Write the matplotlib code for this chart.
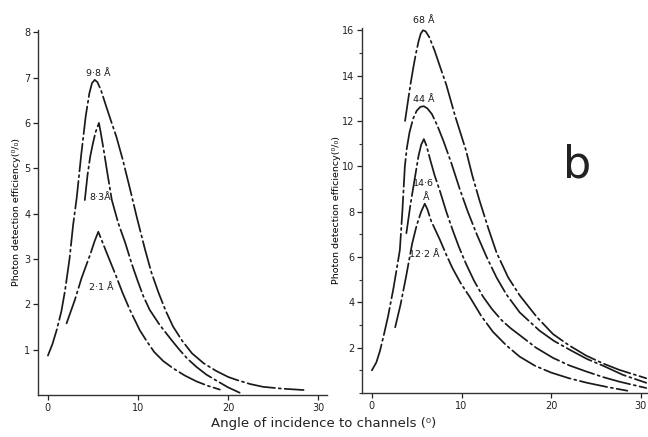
import matplotlib
matplotlib.use("Agg")
import matplotlib.pyplot as plt
from matplotlib.ticker import MultipleLocator

# ---- data ----
# left panel
x_98 = [0, 0.5, 1.0, 1.5, 1.9, 2.4, 2.8, 3.2, 3.7, 4.2, 4.6, 4.9, 5.2, 5.5, 5.9, 6.5, 7.0, 7.6, 8.3, 9.1, 9.9, 10.8,
        11.5, 12.3, 13.1, 13.9, 14.9, 16.0, 17.3, 18.7, 20.0, 21.0, 22.5, 23.9, 26.0, 28.4]
y_98 = [0.87, 1.12, 1.45, 1.85, 2.3, 3.0, 3.75, 4.35, 5.3, 6.15, 6.65, 6.88, 6.95, 6.9, 6.72, 6.35, 6.05, 5.7, 5.2, 4.56,
        3.9, 3.2, 2.7, 2.25, 1.85, 1.51, 1.2, 0.92, 0.7, 0.53, 0.4, 0.33, 0.24, 0.18, 0.14, 0.11]
x_83 = [4.1, 4.4, 4.7, 5.0, 5.3, 5.67, 5.9, 6.2, 6.6, 7.1, 7.8, 8.6, 9.3, 10.0, 10.6, 11.3, 12.4, 13.7, 14.6, 15.5,
        16.5, 17.6, 18.7, 20.0, 21.3]
y_83 = [4.3, 4.85, 5.26, 5.55, 5.8, 6.0, 5.75, 5.4, 4.9, 4.3, 3.8, 3.35, 2.9, 2.5, 2.18, 1.88, 1.55, 1.22, 1.0, 0.8,
        0.62, 0.45, 0.32, 0.17, 0.05]
x_21 = [2.07, 3.0, 3.74, 4.7, 5.2, 5.6, 5.9, 6.5, 7.6, 8.3, 9.1, 10.2, 11.0, 11.8, 12.8, 13.9, 15.2, 16.5, 17.8, 19.1]
y_21 = [1.58, 2.1, 2.58, 3.1, 3.4, 3.6, 3.45, 3.15, 2.61, 2.25, 1.88, 1.43, 1.18, 0.95, 0.75, 0.59, 0.43, 0.3, 0.2, 0.12]
# right panel
x_68 = [3.7, 4.0, 4.3, 4.6, 4.9, 5.2, 5.45, 5.7, 6.0, 6.4, 7.0, 7.6, 8.3, 9.3, 10.5, 11.2, 12.0, 13.0, 13.9, 15.2,
        16.5, 18.4, 20.2, 22.0, 23.9, 25.8, 27.6, 30.6]
y_68 = [12.0, 12.8, 13.6, 14.3, 14.95, 15.5, 15.85, 16.0, 15.95, 15.7, 15.1, 14.4, 13.6, 12.2, 10.7, 9.6, 8.5, 7.25,
        6.2, 5.1, 4.3, 3.35, 2.6, 2.1, 1.65, 1.3, 1.02, 0.65]
x_44 = [0, 0.5, 0.9, 1.3, 1.8, 2.4, 2.94, 3.12, 3.4, 3.68, 3.9, 4.2, 4.6, 5.0, 5.4, 5.8, 6.2, 6.7, 7.3, 8.0, 8.9, 9.8,
        10.7, 11.7, 12.8, 13.9, 15.0, 16.5, 18.7, 20.3, 22.1, 24.0, 25.8, 28.0, 30.6]
y_44 = [1.0, 1.35, 1.85, 2.5, 3.37, 4.6, 5.87, 6.3, 8.0, 10.0, 10.8, 11.5, 12.1, 12.45, 12.62, 12.65, 12.55, 12.3,
        11.8, 11.1, 10.1, 9.0, 8.0, 7.0, 6.0, 5.1, 4.35, 3.55, 2.75, 2.3, 1.9, 1.5, 1.2, 0.8, 0.45]
x_146 = [3.85, 4.3, 4.8, 5.2, 5.5, 5.8, 6.1, 6.5, 7.0, 7.6, 8.3, 9.0, 9.7, 10.5, 11.4, 12.4, 13.4, 14.5, 15.5, 16.5,
         18.3, 20.2, 22.0, 23.9, 25.8, 27.6, 30.6]
y_146 = [7.05, 8.3, 9.5, 10.45, 10.95, 11.2, 10.9, 10.3, 9.6, 8.9, 8.0, 7.2, 6.45, 5.7, 4.95, 4.25, 3.7, 3.2, 2.85,
         2.55, 2.0, 1.55, 1.22, 0.95, 0.7, 0.5, 0.22]
x_122 = [2.6, 3.2, 3.8, 4.5, 5.0, 5.5, 5.9, 6.2, 6.6, 7.6, 8.3, 9.0, 9.9, 10.9, 12.2, 13.5, 15.0, 16.5, 18.2, 20.0,
         22.0, 24.0, 26.3, 28.5]
y_122 = [2.9, 3.9, 5.1, 6.6, 7.4, 8.0, 8.35, 8.1, 7.6, 6.75, 6.1, 5.5, 4.85, 4.25, 3.4, 2.7, 2.1, 1.6, 1.2, 0.9,
         0.65, 0.45, 0.26, 0.1]

xticks = [0, 10, 20, 30]
left_yticks = [1, 2, 3, 4, 5, 6, 7, 8]
right_yticks = [2, 4, 6, 8, 10, 12, 14, 16]

ylabel = "Photon detection efficiency(\u2070/\u2080)"
xlabel = "Angle of incidence to channels (\u2070)"

ls = (0, (16, 2.2, 1.2, 2.2))
lc = "#1a1a1a"
lw = 1.25

fig = plt.figure(figsize=(6.48, 4.37), dpi=100)
axL = fig.add_axes([38/648, 42/437, 289/648, 365/437])
axR = fig.add_axes([362/648, 44/437, 286/648, 365/437])

for ax in (axL, axR):
    for s in ("top", "right"):
        ax.spines[s].set_visible(False)
    for s in ("left", "bottom"):
        ax.spines[s].set_color("#333333")
        ax.spines[s].set_linewidth(1.0)
    ax.set_xticks(xticks)
    ax.tick_params(axis="both", direction="out", length=3.5, width=0.9,
                   labelsize=7, colors="#222222", pad=2)
    ax.set_xlim(-1.1, 31.0)

axL.set_ylim(0, 8.05)
axL.set_yticks(left_yticks)
axR.set_xlim(-1.1, 30.8)
axR.set_ylim(0, 16.1)
axR.set_yticks(right_yticks)
axR.yaxis.set_minor_locator(MultipleLocator(1))
axR.tick_params(axis="y", which="minor", direction="out", length=2.5, width=0.8, colors="#333333")

for xs, ys in ((x_98, y_98), (x_83, y_83), (x_21, y_21)):
    axL.plot(xs, ys, color=lc, lw=lw, linestyle=ls, dash_capstyle="round", dash_joinstyle="round")
for xs, ys in ((x_68, y_68), (x_44, y_44), (x_146, y_146), (x_122, y_122)):
    axR.plot(xs, ys, color=lc, lw=lw, linestyle=ls, dash_capstyle="round", dash_joinstyle="round")

tk = dict(fontsize=6.8, color="#1a1a1a", ha="center", va="center")
axL.text(5.56, 7.1, "9\u00b78 \u00c5", **tk)
axL.text(5.8, 4.36, "8\u00b73\u00c5", **tk)
axL.text(5.9, 2.38, "2\u00b71 \u00c5", **tk)
axR.text(5.8, 16.45, "68 \u00c5", **tk)
axR.text(5.8, 12.96, "44 \u00c5", **tk)
axR.text(5.7, 9.25, "14\u00b76", **tk)
axR.text(6.1, 8.64, "\u00c5", **tk)
axR.text(5.8, 6.13, "12\u00b72 \u00c5", **tk)

axL.set_ylabel(ylabel, fontsize=6.8, labelpad=2)
axR.set_ylabel(ylabel, fontsize=6.8, labelpad=1)

fig.text(0.5, 0.03, xlabel, ha="center", va="center", fontsize=9.5, color="#222222")
fig.text(577/648, 1 - 165/437, "b", ha="center", va="center", fontsize=32, color="#222222")

fig.savefig("out.png", dpi=100)
